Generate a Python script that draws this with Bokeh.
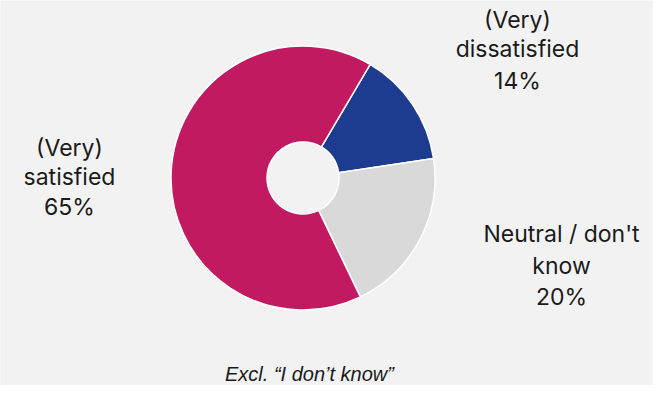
import numpy as np
from bokeh.plotting import figure
from bokeh.models import Range1d, ColumnDataSource
from bokeh.core.properties import value
from bokeh.embed import file_html
from bokeh.resources import INLINE

categories = ["(Very) dissatisfied", "Neutral / don't know", "(Very) satisfied"]
values = [14, 20, 65]
colors = ["#1E3C8F", "#D9D9D9", "#C21A60"]
label_lines = [["(Very)", "dissatisfied", "14%"],
               ["Neutral / don't", "know", "20%"],
               ["(Very)", "satisfied", "65%"]]
footnote = "Excl. \u201cI don\u2019t know\u201d"

W, H = 653, 385
p = figure(width=W, height=H, output_backend="svg", toolbar_location=None,
           x_range=Range1d(0, W), y_range=Range1d(0, H), min_border=0,
           background_fill_color="#F2F2F2", border_fill_color="#F2F2F2")
p.axis.visible = False
p.grid.visible = False
p.outline_line_color = None

cx, cy = 302.5, 207.5
start_deg = 30.6
total = sum(values)
cum = np.concatenate([[0], np.cumsum(values)]) / total * 360.0 + start_deg
starts = np.deg2rad(90 - cum[:-1])
ends = np.deg2rad(90 - cum[1:])
src = ColumnDataSource(dict(start=starts, end=ends, color=colors, cat=categories))
p.annular_wedge(x=cx, y=cy, inner_radius=36, outer_radius=132,
                start_angle="start", end_angle="end", direction="clock",
                fill_color="color", line_color="white", line_width=1.5, source=src)

label_x = [517, 561, 69]
label_y = [[366, 337, 305], [152, 120, 89], [238, 209, 179]]
xs, ys, ts = [], [], []
for lx, lys, lines in zip(label_x, label_y, label_lines):
    for ly, t in zip(lys, lines):
        xs.append(lx)
        ys.append(ly)
        ts.append(t)
p.text(x=xs, y=ys, text=ts, text_align="center", text_baseline="middle",
       text_font=value("Inter"), text_font_size="23px", text_color="#1a1a1a")

p.text(x=[309], y=[11.5], text=[footnote], text_align="center", text_baseline="middle",
       text_font=value("Liberation Sans"), text_font_style="italic",
       text_font_size="20px", text_color="#1a1a1a")

open("out.html", "w").write(file_html(p, INLINE))
